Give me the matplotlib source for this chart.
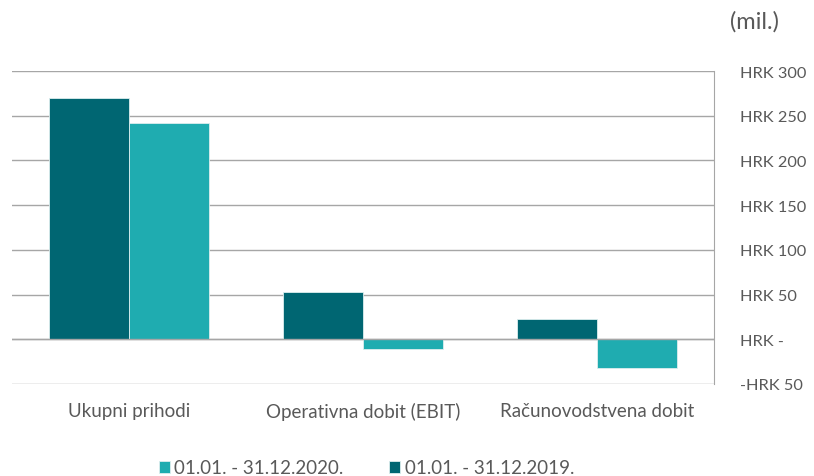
import matplotlib.pyplot as plt
import numpy as np

# Podaci (mil. HRK)
categories = ["Ukupni prihodi", "Operativna dobit (EBIT)", "Računovodstvena dobit"]
values_2019 = [269.6, 52.9, 23.1]
values_2020 = [241.6, -11.2, -31.7]
label_2020 = "01.01. - 31.12.2020."
label_2019 = "01.01. - 31.12.2019."
tick_values = [-50, 0, 50, 100, 150, 200, 250, 300]
tick_labels = ["-HRK 50", "HRK -", "HRK 50", "HRK 100", "HRK 150", "HRK 200", "HRK 250", "HRK 300"]

DARK = "#006672"
LIGHT = "#1FACB0"
TEXT = "#595959"
GRID = "#A6A6A6"

plt.rcParams['font.family'] = ['Lato', 'DejaVu Sans']

fig = plt.figure(figsize=(8.14, 4.77), dpi=100)
ax = fig.add_axes([12 / 814, 92 / 477, 702 / 814, 313 / 477])

x = np.arange(len(categories))
w = 0.342
ax.bar(x - w / 2, values_2019, w, color=DARK, edgecolor="#DDEEEE", linewidth=0.6,
       label=label_2019, zorder=3)
ax.bar(x + w / 2, values_2020, w, color=LIGHT, edgecolor="#DDEEEE", linewidth=0.6,
       label=label_2020, zorder=3)

ax.set_xlim(-0.5, len(categories) - 0.5)
ax.set_ylim(-50, 300)
ax.yaxis.tick_right()
ax.set_yticks(tick_values)
ax.set_yticklabels(tick_labels, ha="left")
ax.tick_params(axis="y", length=0, pad=19, labelsize=11.8, labelcolor=TEXT)
ax.set_xticks(x)
ax.set_xticklabels(categories)
ax.tick_params(axis="x", length=0, pad=13, labelsize=13.5, labelcolor=TEXT)

ax.grid(axis="y", color=GRID, linewidth=1.0, zorder=0)
for s in ["top", "left", "bottom"]:
    ax.spines[s].set_visible(False)
ax.spines["right"].set_color(GRID)
ax.axhline(0, color=GRID, linewidth=1.0, zorder=4)

fig.text(730 / 814, 1 - 22 / 477, "(mil.)", fontsize=17, color=TEXT, va="center", ha="left")

handles, labels = ax.get_legend_handles_labels()
leg = fig.legend(handles[::-1], labels[::-1], loc="center", bbox_to_anchor=(0.45, 1 - 469 / 477),
                 ncol=2, frameon=False, fontsize=13.5, handlelength=0.6, handleheight=0.6,
                 handletextpad=0.25, columnspacing=2.4)
for t in leg.get_texts():
    t.set_color(TEXT)

fig.savefig("out.png", dpi=100)
